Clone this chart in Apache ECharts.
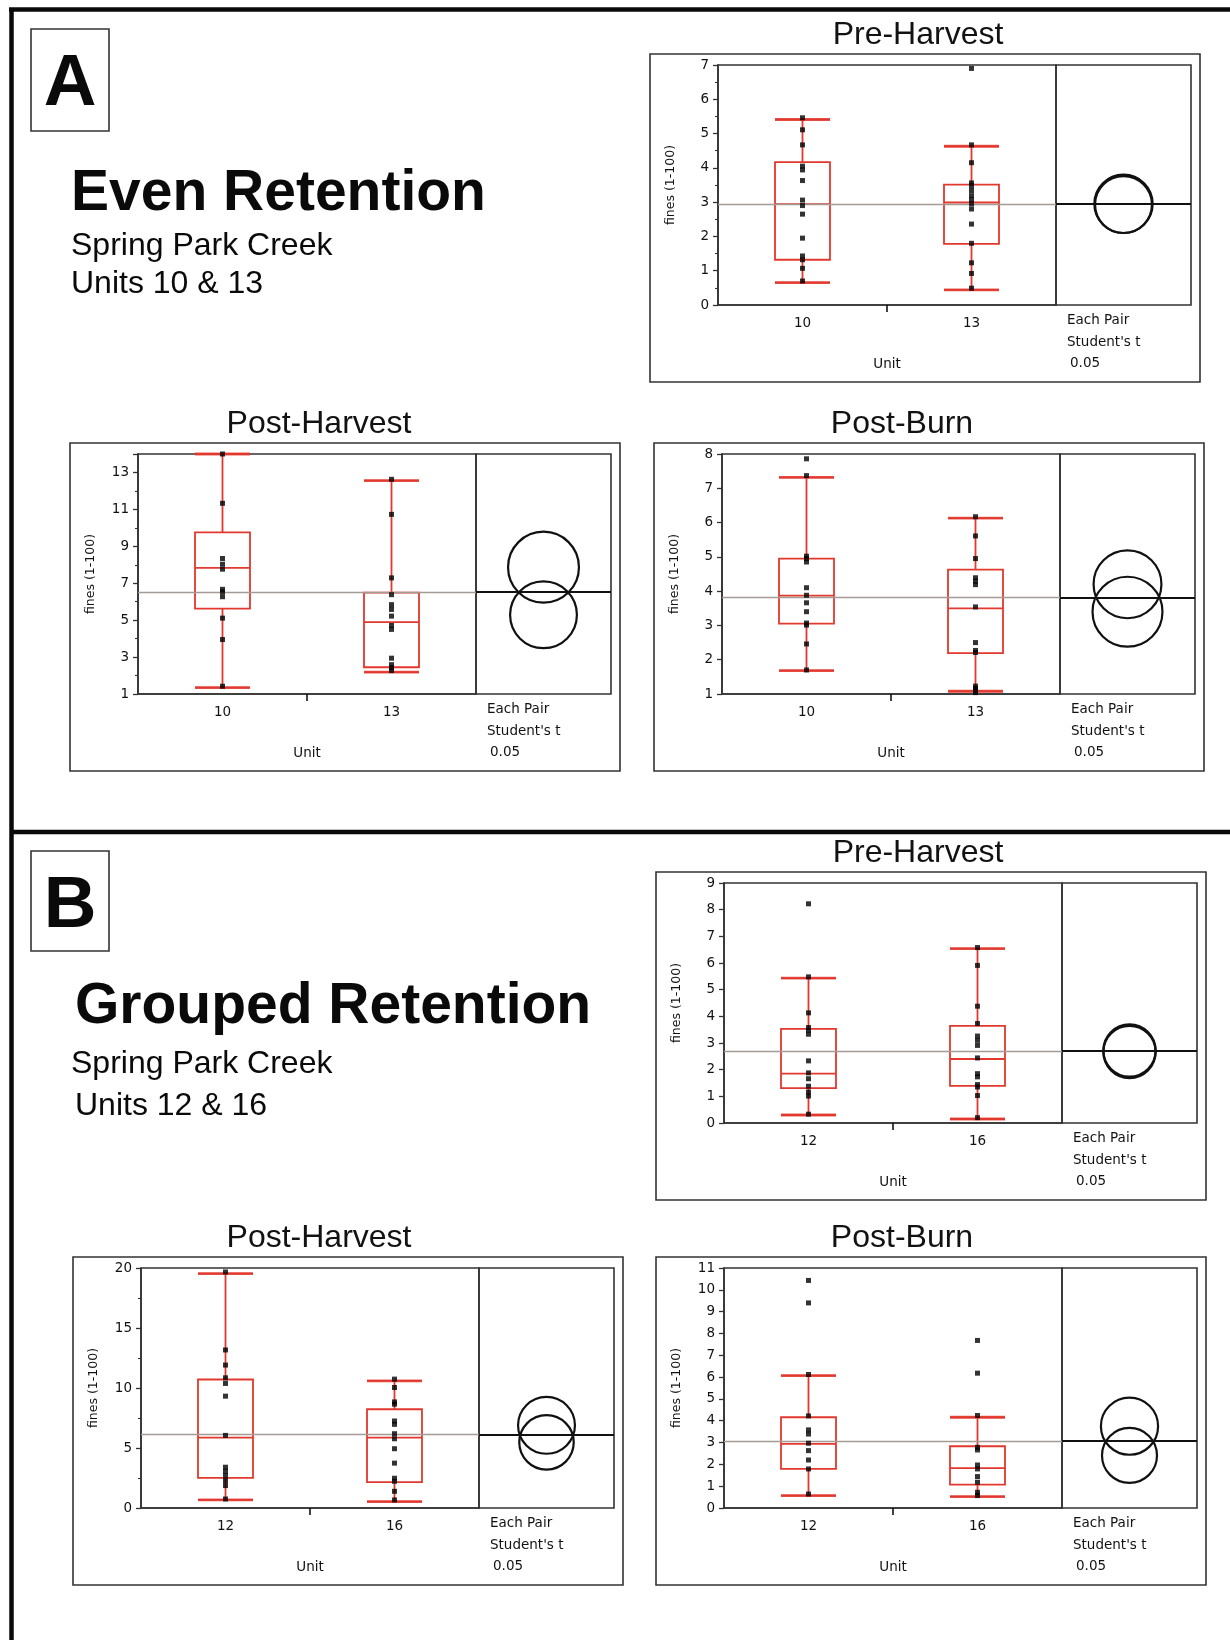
<!DOCTYPE html>
<html>
<head>
<meta charset="utf-8">
<script src="https://cdn.jsdelivr.net/npm/echarts@6/dist/echarts.min.js"></script>
<style>
  html, body { margin: 0; padding: 0; background: #fff; }
  #chart { width: 1230px; height: 1640px; }
</style>
</head>
<body>
<div id="chart"></div>
<script>
// Fine sediment (fines, 1-100) by harvest unit, Spring Park Creek.
// Box = [whisker low, Q1, median, Q3, whisker high]; circles = [mean, CI radius].

const evenUnits = ['10', '13'];
const groupedUnits = ['12', '16'];
const phaseTitles = ['Pre-Harvest', 'Post-Harvest', 'Post-Burn'];

// Even retention, units 10 & 13
const evenPreAxis = [0, 7, 1, 2];          // min, max, interval, minor splits
const evenPreBoxes = [[0.65, 1.32, 2.94, 4.17, 5.41], [0.44, 1.78, 2.99, 3.51, 4.63]];
const evenPreUnit10 = [5.46, 5.11, 4.67, 4.05, 3.94, 3.63, 3.06, 2.90, 2.65, 1.95, 1.43, 1.32, 1.07, 0.70];
const evenPreUnit13 = [6.90, 4.67, 4.15, 3.56, 3.48, 3.34, 3.19, 3.07, 2.95, 2.80, 2.36, 1.80, 1.23, 0.92, 0.49];
const evenPreGrandMean = 2.94;
const evenPreCircles = [[2.95, 0.85], [2.93, 0.83]];

const evenPostHarvestAxis = [1, 14, 2, 2];
const evenPostHarvestBoxes = [[1.34, 5.62, 7.83, 9.75, 14.0], [2.18, 2.45, 4.89, 6.49, 12.56]];
const evenPostHarvestUnit10 = [14.0, 11.33, 8.34, 8.03, 7.76, 6.67, 6.53, 6.27, 5.11, 3.95, 1.42];
const evenPostHarvestUnit13 = [12.63, 10.73, 7.29, 6.38, 5.84, 5.58, 5.22, 4.71, 4.50, 2.94, 2.59, 2.43, 2.27];
const evenPostHarvestGrandMean = 6.53;
const evenPostHarvestCircles = [[7.87, 1.92], [5.29, 1.81]];

const evenPostBurnAxis = [1, 8, 1, 0];
const evenPostBurnBoxes = [[1.68, 3.05, 3.87, 4.95, 7.32], [1.08, 2.19, 3.50, 4.63, 6.13]];
const evenPostBurnUnit10 = [7.86, 7.37, 5.02, 4.95, 4.85, 4.10, 3.88, 3.66, 3.40, 3.07, 3.01, 2.46, 1.70];
const evenPostBurnUnit13 = [6.17, 5.61, 4.95, 4.39, 4.29, 4.19, 3.54, 2.50, 2.27, 2.21, 1.23, 1.16, 1.10, 1.04];
const evenPostBurnGrandMean = 3.82;
const evenPostBurnCircles = [[4.20, 0.99], [3.40, 1.02]];

// Grouped retention, units 12 & 16
const groupedPreAxis = [0, 9, 1, 0];
const groupedPreBoxes = [[0.30, 1.31, 1.85, 3.53, 5.43], [0.15, 1.39, 2.40, 3.64, 6.54]];
const groupedPreUnit12 = [8.22, 5.48, 4.13, 3.58, 3.48, 3.33, 2.33, 1.88, 1.66, 1.38, 1.16, 1.01, 0.33];
const groupedPreUnit16 = [6.58, 5.91, 4.38, 3.73, 3.26, 3.10, 2.91, 2.44, 1.85, 1.73, 1.44, 1.35, 1.03, 0.20];
const groupedPreGrandMean = 2.70;
const groupedPreCircles = [[2.72, 0.98], [2.66, 0.98]];

const groupedPostHarvestAxis = [0, 20, 5, 2];
const groupedPostHarvestBoxes = [[0.67, 2.51, 5.86, 10.71, 19.53], [0.53, 2.15, 5.86, 8.23, 10.60]];
const groupedPostHarvestUnit12 = [19.67, 13.17, 11.91, 10.85, 10.38, 9.32, 6.05, 3.40, 3.07, 2.71, 2.29, 1.87, 0.75];
const groupedPostHarvestUnit16 = [10.74, 10.04, 8.84, 8.65, 7.25, 6.97, 6.19, 5.77, 4.94, 3.74, 2.48, 2.23, 1.39, 0.67];
const groupedPostHarvestGrandMean = 6.14;
const groupedPostHarvestCircles = [[6.89, 2.37], [5.47, 2.27]];

const groupedPostBurnAxis = [0, 11, 1, 0];
const groupedPostBurnBoxes = [[0.57, 1.79, 2.94, 4.16, 6.07], [0.52, 1.07, 1.83, 2.83, 4.16]];
const groupedPostBurnUnit12 = [10.43, 9.40, 6.12, 4.22, 3.58, 3.39, 2.97, 2.63, 2.20, 1.79, 0.64];
const groupedPostBurnUnit16 = [7.68, 6.18, 4.24, 2.78, 2.66, 1.97, 1.79, 1.44, 1.18, 0.72, 0.57];
const groupedPostBurnGrandMean = 3.06;
const groupedPostBurnCircles = [[3.75, 1.31], [2.41, 1.26]];

// ---- styling ----
const RED = '#e2382e';
const INK = '#121212';
const FRAME = '#333333';
const SMALL_FONT = '"DejaVu Sans", sans-serif';
const HEAD_FONT = '"Liberation Sans", Arial, sans-serif';

// panel frame origin (ox, oy) and title centre for each plot
const panels = [
  { ox: 650, oy: 54, titleX: 918, title: phaseTitles[0], units: evenUnits, axis: evenPreAxis,
    boxes: evenPreBoxes, points: [evenPreUnit10, evenPreUnit13], mean: evenPreGrandMean, circles: evenPreCircles },
  { ox: 70, oy: 443, titleX: 319, title: phaseTitles[1], units: evenUnits, axis: evenPostHarvestAxis,
    boxes: evenPostHarvestBoxes, points: [evenPostHarvestUnit10, evenPostHarvestUnit13], mean: evenPostHarvestGrandMean, circles: evenPostHarvestCircles },
  { ox: 654, oy: 443, titleX: 902, title: phaseTitles[2], units: evenUnits, axis: evenPostBurnAxis,
    boxes: evenPostBurnBoxes, points: [evenPostBurnUnit10, evenPostBurnUnit13], mean: evenPostBurnGrandMean, circles: evenPostBurnCircles },
  { ox: 656, oy: 872, titleX: 918, title: phaseTitles[0], units: groupedUnits, axis: groupedPreAxis,
    boxes: groupedPreBoxes, points: [groupedPreUnit12, groupedPreUnit16], mean: groupedPreGrandMean, circles: groupedPreCircles },
  { ox: 73, oy: 1257, titleX: 319, title: phaseTitles[1], units: groupedUnits, axis: groupedPostHarvestAxis,
    boxes: groupedPostHarvestBoxes, points: [groupedPostHarvestUnit12, groupedPostHarvestUnit16], mean: groupedPostHarvestGrandMean, circles: groupedPostHarvestCircles },
  { ox: 656, oy: 1257, titleX: 902, title: phaseTitles[2], units: groupedUnits, axis: groupedPostBurnAxis,
    boxes: groupedPostBurnBoxes, points: [groupedPostBurnUnit12, groupedPostBurnUnit16], mean: groupedPostBurnGrandMean, circles: groupedPostBurnCircles }
];

const PLOT_W = 338, CMP_W = 135, PLOT_H = 240, BOX_W = 55;

const grid = [], xAxis = [], yAxis = [], series = [], graphic = [];

panels.forEach(function (p, i) {
  const [ymin, ymax, step, minor] = p.axis;
  const left = p.ox + 68, top = p.oy + 11;

  grid.push({ left: left, top: top, width: PLOT_W, height: PLOT_H, show: true,
              borderColor: FRAME, borderWidth: 1.6, containLabel: false });
  grid.push({ left: left + PLOT_W, top: top, width: CMP_W, height: PLOT_H, show: true,
              borderColor: FRAME, borderWidth: 1.6, containLabel: false });
  const gMain = 2 * i, gCmp = 2 * i + 1;

  // unit axis
  xAxis.push({ type: 'category', gridIndex: gMain, data: p.units, boundaryGap: true,
    axisLine: { lineStyle: { color: FRAME, width: 1.6 } }, axisTick: { show: false },
    axisLabel: { color: INK, fontFamily: SMALL_FONT, fontSize: 13.5, margin: 11 },
    name: 'Unit', nameLocation: 'middle', nameGap: 52,
    nameTextStyle: { color: INK, fontFamily: SMALL_FONT, fontSize: 13.5 } });
  // single separator tick between the two units
  xAxis.push({ type: 'category', gridIndex: gMain, data: ['', '', ''], boundaryGap: false,
    position: 'bottom', axisLine: { show: false }, axisLabel: { show: false },
    axisTick: { show: true, length: 7, interval: function (idx) { return idx === 1; },
                lineStyle: { color: INK, width: 1.6 } } });
  // comparison-circle compartment
  xAxis.push({ type: 'value', gridIndex: gCmp, min: -1, max: 1, show: false });

  yAxis.push({ type: 'value', gridIndex: gMain, min: ymin, max: ymax, interval: step,
    axisLine: { show: true, lineStyle: { color: FRAME, width: 1.6 } },
    axisTick: { show: true, length: 5, lineStyle: { color: FRAME, width: 1.3 } },
    minorTick: { show: minor > 0, splitNumber: minor || 1, length: 3, lineStyle: { color: FRAME, width: 1.1 } },
    splitLine: { show: false },
    axisLabel: { color: INK, fontFamily: SMALL_FONT, fontSize: 13.5, margin: 9,
      formatter: function (v) { return ((v - ymin) % step === 0) ? String(v) : ''; } },
    name: 'fines (1-100)', nameLocation: 'middle', nameGap: 41, nameRotate: 90,
    nameTextStyle: { color: INK, fontFamily: SMALL_FONT, fontSize: 12.5 } });
  yAxis.push({ type: 'value', gridIndex: gCmp, min: ymin, max: ymax, show: false });

  const xm = 3 * i, xc = 3 * i + 2, ym = 2 * i, yc = 2 * i + 1;

  series.push({ type: 'boxplot', xAxisIndex: xm, yAxisIndex: ym, data: p.boxes,
    boxWidth: [BOX_W, BOX_W], silent: true, z: 2,
    itemStyle: { color: 'rgba(0,0,0,0)', borderColor: RED, borderWidth: 1.8 },
    markLine: { silent: true, symbol: 'none', label: { show: false },
      lineStyle: { color: '#a39b94', width: 1.4, type: 'solid' },
      data: [{ yAxis: p.mean }] } });

  // heavier whisker caps at the whisker ends
  const caps = [];
  p.boxes.forEach(function (b, k) { caps.push([k, b[0]], [k, b[4]]); });
  series.push({ type: 'scatter', xAxisIndex: xm, yAxisIndex: ym, data: caps, silent: true,
    symbol: 'rect', symbolSize: [BOX_W, 2.8], itemStyle: { color: RED }, z: 3 });

  const pts = [];
  p.points.forEach(function (arr, k) { arr.forEach(function (v) { pts.push([k, v]); }); });
  series.push({ type: 'scatter', xAxisIndex: xm, yAxisIndex: ym, data: pts, silent: true,
    symbol: 'rect', symbolSize: 5, itemStyle: { color: '#000' }, z: 5 });

  series.push({ type: 'custom', xAxisIndex: xc, yAxisIndex: yc, silent: true, z: 4,
    data: p.circles.map(function (c) { return [0, c[0], c[1]]; }),
    encode: { x: 0, y: 1 },
    renderItem: function (params, api) {
      const c = api.coord([0, api.value(1)]);
      const r = api.size([0, api.value(2)])[1];
      return { type: 'circle', shape: { cx: c[0], cy: c[1], r: r },
               style: { fill: 'none', stroke: '#111', lineWidth: 2.2 } };
    },
    markLine: { silent: true, symbol: 'none', label: { show: false },
      lineStyle: { color: '#111', width: 2.2, type: 'solid' },
      data: [{ yAxis: p.mean }] } });

  // panel frame, phase title and comparison legend
  graphic.push({ type: 'rect', shape: { x: p.ox, y: p.oy, width: 550, height: 328 },
    style: { fill: 'none', stroke: FRAME, lineWidth: 1.6 }, silent: true });
  graphic.push({ type: 'text', x: p.titleX, y: p.oy - 19,
    style: { text: p.title, font: '32px ' + HEAD_FONT, fill: INK, align: 'center', verticalAlign: 'middle' } });
  [['Each Pair', 0, 266], ["Student's t", 0, 288], ['0.05', 3, 309]].forEach(function (t) {
    graphic.push({ type: 'text', x: p.ox + 417 + t[1], y: p.oy + t[2],
      style: { text: t[0], font: '13.5px ' + SMALL_FONT, fill: INK, align: 'left', verticalAlign: 'middle' } });
  });
});

// figure frame and section headings
const heading = function (txt, x, y, size, weight) {
  return { type: 'text', x: x, y: y,
    style: { text: txt, font: weight + ' ' + size + 'px ' + HEAD_FONT, fill: '#0a0a0a', align: 'left', verticalAlign: 'middle' } };
};
graphic.push(
  { type: 'line', shape: { x1: 9, y1: 9.5, x2: 1230, y2: 9.5 }, style: { stroke: '#0a0a0a', lineWidth: 4.5 } },
  { type: 'line', shape: { x1: 11.5, y1: 8, x2: 11.5, y2: 1640 }, style: { stroke: '#0a0a0a', lineWidth: 4.5 } },
  { type: 'line', shape: { x1: 10, y1: 832, x2: 1230, y2: 832 }, style: { stroke: '#0a0a0a', lineWidth: 4.5 } },
  { type: 'rect', shape: { x: 31, y: 29, width: 78, height: 102 }, style: { fill: 'none', stroke: '#333', lineWidth: 1.6 } },
  { type: 'rect', shape: { x: 31, y: 851, width: 78, height: 100 }, style: { fill: 'none', stroke: '#333', lineWidth: 1.6 } },
  { type: 'text', x: 70, y: 85, style: { text: 'A', font: 'bold 73px ' + HEAD_FONT, fill: '#0a0a0a', align: 'center', verticalAlign: 'middle' } },
  { type: 'text', x: 70, y: 907, style: { text: 'B', font: 'bold 73px ' + HEAD_FONT, fill: '#0a0a0a', align: 'center', verticalAlign: 'middle' } },
  heading('Even Retention', 71, 194, 57, 'bold'),
  heading('Spring Park Creek', 71, 246, 32, 'normal'),
  heading('Units 10 & 13', 71, 284, 32, 'normal'),
  heading('Grouped Retention', 75, 1007, 57, 'bold'),
  heading('Spring Park Creek', 71, 1064, 32, 'normal'),
  heading('Units 12 & 16', 75, 1106, 32, 'normal')
);

const chart = echarts.init(document.getElementById('chart'), null, { renderer: 'canvas', width: 1230, height: 1640 });
chart.setOption({
  backgroundColor: '#ffffff',
  animation: false,
  grid: grid,
  xAxis: xAxis,
  yAxis: yAxis,
  series: series,
  graphic: graphic
});
</script>
</body>
</html>
